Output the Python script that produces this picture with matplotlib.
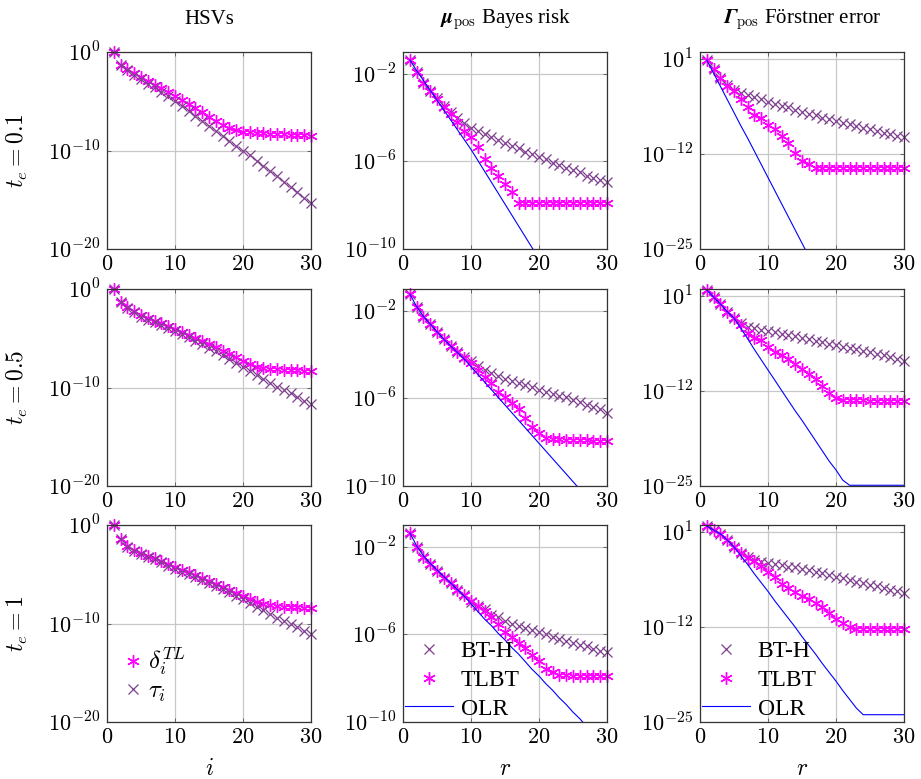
import numpy as np
import matplotlib.pyplot as plt
from matplotlib.ticker import FixedLocator, NullLocator

plt.rcParams['font.family'] = ['Liberation Serif', 'DejaVu Serif']
plt.rcParams['mathtext.fontset'] = 'cm'
plt.rcParams['font.size'] = 16

r = np.arange(1, 31)
t_e = ['0.1', '0.5', '1']

# log10 of the HSVs (tau_i) and TLBT values (delta_i^TL), one list per t_e
tau = [
    [0, -1.3, -1.8, -2.3, -2.7, -3.2, -3.6, -4.1, -4.5, -5.0, -5.5, -6.0, -6.5, -7.0, -7.5,
     -8.0, -8.5, -9.0, -9.5, -10.0, -10.5, -11.1, -11.6, -12.1, -12.6, -13.2, -13.7, -14.2, -14.8, -15.3],
    [0, -1.3, -1.9, -2.3, -2.8, -3.1, -3.4, -3.7, -4.0, -4.3, -4.6, -4.9, -5.3, -5.6, -6.0,
     -6.3, -6.7, -7.1, -7.5, -7.9, -8.3, -8.7, -9.1, -9.5, -9.9, -10.3, -10.6, -11.0, -11.4, -11.7],
    [0, -1.4, -2.2, -2.6, -2.9, -3.2, -3.5, -3.8, -4.2, -4.5, -4.8, -5.0, -5.3, -5.6, -5.9,
     -6.2, -6.5, -6.8, -7.2, -7.5, -7.9, -8.3, -8.6, -9.0, -9.4, -9.7, -10.1, -10.4, -10.8, -11.1],
]
delta = [
    [0, -1.3, -1.7, -2.1, -2.5, -2.9, -3.3, -3.7, -4.1, -4.5, -4.9, -5.3, -5.7, -6.1, -6.6,
     -7.0, -7.4, -7.7, -7.9, -8.1, -8.1, -8.2, -8.2, -8.3, -8.3, -8.3, -8.4, -8.4, -8.4, -8.5],
    [0, -1.3, -1.8, -2.2, -2.6, -2.9, -3.2, -3.5, -3.8, -4.1, -4.4, -4.7, -5.0, -5.3, -5.6,
     -5.9, -6.3, -6.6, -6.9, -7.3, -7.6, -7.9, -8.0, -8.1, -8.1, -8.2, -8.2, -8.2, -8.3, -8.3],
    [0, -1.4, -2.1, -2.5, -2.8, -3.1, -3.4, -3.7, -4.0, -4.3, -4.6, -4.8, -5.1, -5.4, -5.7,
     -6.0, -6.3, -6.6, -6.9, -7.2, -7.5, -7.8, -8.0, -8.1, -8.2, -8.3, -8.3, -8.3, -8.4, -8.4],
]

# log10 of the posterior mean Bayes risk
mu_bth = [
    [-1.36, -1.9, -2.4, -2.8, -3.1, -3.45, -3.75, -4.0, -4.25, -4.45, -4.6, -4.75, -4.9, -5.0, -5.15,
     -5.3, -5.4, -5.55, -5.65, -5.8, -5.9, -6.05, -6.15, -6.3, -6.4, -6.5, -6.65, -6.75, -6.85, -6.95],
    [-1.23, -1.8, -2.27, -2.6, -2.95, -3.3, -3.6, -3.86, -4.1, -4.3, -4.5, -4.7, -4.85, -4.98, -5.1,
     -5.2, -5.3, -5.4, -5.5, -5.6, -5.7, -5.8, -5.9, -5.95, -6.05, -6.15, -6.3, -6.4, -6.5, -6.65],
    [-1.36, -2.0, -2.45, -2.8, -3.1, -3.4, -3.65, -3.95, -4.2, -4.5, -4.7, -4.86, -5.1, -5.2, -5.4,
     -5.5, -5.6, -5.7, -5.8, -5.9, -6.0, -6.1, -6.2, -6.3, -6.4, -6.5, -6.55, -6.65, -6.75, -6.8],
]
mu_tlbt = [
    [-1.36, -1.9, -2.4, -2.8, -3.15, -3.5, -3.85, -4.2, -4.6, -4.9, -5.35, -5.9, -6.3, -6.65, -7.05,
     -7.4, -7.9, -7.9, -7.9, -7.9, -7.9, -7.9, -7.9, -7.9, -7.9, -7.9, -7.9, -7.9, -7.9, -7.9],
    [-1.23, -1.8, -2.27, -2.6, -2.95, -3.3, -3.6, -3.9, -4.15, -4.4, -4.7, -5.0, -5.3, -5.7, -5.95,
     -6.2, -6.5, -6.9, -7.3, -7.6, -7.8, -7.85, -7.85, -7.9, -7.9, -7.9, -7.9, -7.95, -7.95, -7.95],
    [-1.36, -2.0, -2.45, -2.8, -3.1, -3.4, -3.65, -3.95, -4.2, -4.45, -4.7, -4.95, -5.2, -5.5, -5.9,
     -6.1, -6.4, -6.6, -6.95, -7.2, -7.6, -7.7, -7.85, -7.85, -7.9, -7.9, -7.9, -7.9, -7.9, -7.9],
]
mu_olr = [
    [-1.36, -1.85, -2.3, -2.75, -3.2, -3.65, -4.1, -4.55, -5.0, -5.45, -5.95, -6.45, -6.95, -7.45, -7.95,
     -8.45, -8.95, -9.45, -9.95, -10.45, -10.95, -11.45, -11.95, -12.45, -12.95, -13.45, -13.95, -14.45, -14.95, -15.45],
    [-1.23, -1.8, -2.25, -2.6, -2.95, -3.3, -3.6, -3.9, -4.2, -4.55, -4.9, -5.25, -5.6, -5.95, -6.3,
     -6.65, -7.0, -7.35, -7.7, -8.05, -8.4, -8.75, -9.1, -9.45, -9.8, -10.15, -10.5, -10.85, -11.2, -11.55],
    [-1.36, -1.95, -2.4, -2.75, -3.05, -3.35, -3.65, -3.95, -4.25, -4.6, -4.95, -5.3, -5.6, -5.95, -6.25,
     -6.6, -6.9, -7.25, -7.6, -7.9, -8.25, -8.55, -8.9, -9.2, -9.55, -9.85, -10.2, -10.5, -10.85, -11.2],
]

# log10 of the posterior covariance Foerstner error
gam_bth = [
    [0.9, -0.3, -1.6, -2.5, -3.2, -3.6, -3.9, -4.2, -4.5, -4.8, -5.1, -5.4, -5.6, -5.9, -6.2,
     -6.5, -6.7, -7.0, -7.2, -7.5, -7.7, -7.9, -8.1, -8.4, -8.6, -8.8, -9.1, -9.3, -9.5, -9.7],
    [1.86, 0.9, -0.05, -1.1, -2.0, -2.7, -3.2, -3.4, -3.6, -3.75, -3.95, -4.15, -4.35, -4.5, -4.7,
     -4.9, -5.1, -5.3, -5.5, -5.7, -5.9, -6.05, -6.25, -6.45, -6.6, -6.85, -7.1, -7.3, -7.55, -7.8],
    [1.86, 1.3, 0.8, -0.05, -1.0, -1.8, -2.4, -2.8, -3.1, -3.2, -3.4, -3.5, -3.7, -3.8, -4.0,
     -4.2, -4.4, -4.6, -4.9, -5.1, -5.3, -5.5, -5.8, -6.0, -6.2, -6.4, -6.6, -6.9, -7.1, -7.3],
]
gam_tlbt = [
    [0.9, -0.3, -1.6, -2.6, -3.4, -4.4, -5.6, -6.6, -7.1, -8.0, -8.6, -9.5, -10.5, -11.8, -13.0,
     -13.4, -13.9, -13.9, -13.9, -13.9, -13.9, -13.9, -13.9, -13.9, -13.9, -13.9, -13.9, -13.9, -13.9, -13.9],
    [1.86, 0.9, -0.05, -1.1, -2.0, -2.9, -4.0, -4.7, -5.0, -5.9, -6.6, -7.0, -7.6, -8.3, -9.0,
     -9.6, -10.4, -11.3, -12.3, -12.9, -13.2, -13.2, -13.2, -13.2, -13.3, -13.3, -13.3, -13.3, -13.3, -13.3],
    [1.86, 1.3, 0.8, -0.05, -1.0, -1.8, -2.5, -2.9, -3.6, -4.4, -5.1, -6.1, -6.6, -7.2, -7.7,
     -8.1, -8.7, -9.2, -10.1, -10.9, -11.4, -12.0, -12.3, -12.3, -12.3, -12.3, -12.3, -12.3, -12.3, -12.3],
]
gam_olr = [
    [0.9, -0.9, -2.7, -4.5, -6.3, -8.1, -9.8, -11.6, -13.4, -15.2, -17.0, -18.8, -20.6, -22.4, -24.2,
     -26.0, -27.8, -29.6, -31.4, -33.2, -35.0, -36.8, -38.6, -40.4, -42.2, -44.0, -45.8, -47.6, -49.4, -51.2],
    [1.86, 0.9, -0.05, -1.1, -2.0, -3.4, -4.8, -6.3, -7.7, -9.1, -10.5, -11.9, -13.3, -14.7, -16.0,
     -17.4, -18.8, -20.2, -21.6, -22.8, -24.2, -24.9, -24.9, -24.9, -24.9, -24.9, -24.9, -24.9, -24.9, -24.9],
    [1.86, 1.3, 0.8, -0.05, -1.0, -2.2, -3.4, -4.7, -5.9, -7.1, -8.4, -9.6, -10.8, -12.0, -13.3,
     -14.5, -15.7, -17.0, -18.2, -19.4, -20.7, -21.9, -23.1, -24.0, -24.0, -24.0, -24.0, -24.0, -24.0, -24.0],
]

ylims = [(1e-20, 1e0), (1e-10, 1e-1), (1e-25, 1e2)]
yticks = [[1e-20, 1e-10, 1e0], [1e-10, 1e-6, 1e-2], [1e-25, 1e-12, 1e1]]
ytick_labels = [[r'$10^{-20}$', r'$10^{-10}$', r'$10^{0}$'],
                [r'$10^{-10}$', r'$10^{-6}$', r'$10^{-2}$'],
                [r'$10^{-25}$', r'$10^{-12}$', r'$10^{1}$']]
titles = ['HSVs', r'$\mathbfit{\mu}_{\mathrm{pos}}$ Bayes risk',
          r'$\mathbfit{\Gamma}_{\mathrm{pos}}$ Förstner error']

magenta = '#ff00ff'
purple = '#7f3f8f'
blue = '#0000ff'
aster = (6, 2, 0)

W, H = 921, 779
fig = plt.figure(figsize=(W / 100, H / 100), dpi=100)

lefts = [107, 403, 700]
tops = [52, 289, 525]
aw, ah = 204, 197

for row in range(3):
    for col in range(3):
        ax = fig.add_axes([lefts[col] / W, 1 - (tops[row] + ah) / H, aw / W, ah / H])
        ax.set_yscale('log')
        if col == 0:
            ax.plot(r, 10.0 ** np.array(delta[row]), ls='none', marker=aster, ms=9, mew=1.0,
                    color=magenta, clip_on=False, label=r'$\delta_i^{TL}$')
            ax.plot(r, 10.0 ** np.array(tau[row]), ls='none', marker='x', ms=6.5, mew=0.9,
                    color=purple, clip_on=False, label=r'$\tau_i$')
        else:
            if col == 1:
                bth, tlbt, olr = mu_bth[row], mu_tlbt[row], mu_olr[row]
            else:
                bth, tlbt, olr = gam_bth[row], gam_tlbt[row], gam_olr[row]
            ax.plot(r, 10.0 ** np.array(bth), ls='none', marker='x', ms=6.5, mew=0.9,
                    color=purple, clip_on=False, label='BT-H')
            ax.plot(r, 10.0 ** np.array(tlbt), ls='none', marker=aster, ms=9, mew=1.0,
                    color=magenta, clip_on=False, label='TLBT')
            ax.plot(r, 10.0 ** np.array(olr), color=blue, lw=0.8, label='OLR')

        ax.set_xlim(0, 30)
        ax.set_ylim(*ylims[col])
        ax.xaxis.set_major_locator(FixedLocator([0, 10, 20, 30]))
        ax.yaxis.set_major_locator(FixedLocator(yticks[col]))
        ax.yaxis.set_minor_locator(NullLocator())
        ax.set_yticklabels(ytick_labels[col])
        ax.set_xticklabels([r'$0$', r'$10$', r'$20$', r'$30$'])
        ax.grid(True, color='#c8c8c8', lw=0.9)
        ax.set_axisbelow(True)
        ax.tick_params(direction='in', length=3, width=0.6, top=True, right=True,
                       color='#555555', labelsize=16, pad=5)
        for s in ax.spines.values():
            s.set_linewidth(0.9)
            s.set_color('#333333')

        if row == 2:
            ax.set_xlabel(r'$i$' if col == 0 else r'$r$', fontsize=17, labelpad=8)
            if col == 0:
                ax.legend(loc='lower left', bbox_to_anchor=(0.0, 0.0), frameon=False,
                          fontsize=18, handlelength=0.7, handletextpad=0.25, labelspacing=0.1,
                          borderaxespad=0.3)
            else:
                ax.legend(loc='lower left', bbox_to_anchor=(0.0, 0.0), frameon=False,
                          fontsize=17, handlelength=2.0, handletextpad=0.35, labelspacing=0.3,
                          borderaxespad=0.0, borderpad=0.1)
        if col == 0:
            fig.text(17 / W, 1 - (tops[row] + ah / 2) / H, r'$t_e = %s$' % t_e[row],
                     rotation=90, ha='center', va='center', fontsize=17)

for col in range(3):
    fig.text((lefts[col] + aw / 2) / W, 1 - 20 / H, titles[col], ha='center', va='center',
             fontsize=15)

fig.savefig('out.png', dpi=100)
